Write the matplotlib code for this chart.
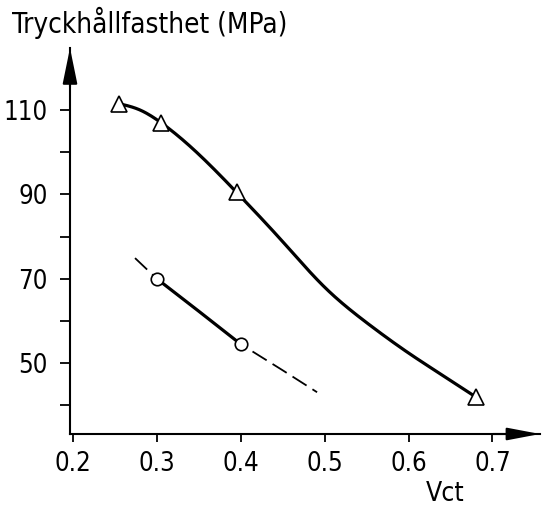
import matplotlib
matplotlib.use("Agg")
import numpy as np
import matplotlib.pyplot as plt

# Compressive strength vs. water/cement ratio (Vct)
tri_x = [0.255, 0.305, 0.395, 0.68]
tri_y = [111.5, 107.0, 90.5, 42.0]
# traced upper curve through the triangle series
curve1_x = [0.255, 0.28, 0.305, 0.35, 0.395, 0.45, 0.50, 0.55, 0.60, 0.65, 0.68]
curve1_y = [111.5, 110.0, 107.0, 99.5, 90.5, 78.8, 68.0, 59.6, 52.4, 45.9, 42.0]

circ_x = [0.30, 0.40]
circ_y = [70.0, 54.5]
# lower line: dashed extrapolation on both sides, solid between the points
curve2_x = [0.274, 0.30, 0.35, 0.40, 0.45, 0.491]
curve2_y = [74.9, 70.0, 62.3, 54.5, 48.3, 43.1]

x_ticks = [0.2, 0.3, 0.4, 0.5, 0.6, 0.7]
x_labels = ["0.2", "0.3", "0.4", "0.5", "0.6", "0.7"]
y_major = [50, 70, 90, 110]
y_minor = [40, 60, 80, 100]


def spline(xs, ys, n=300):
    """Natural cubic spline through the given points, for a drawn curve."""
    x = np.asarray(xs, float)
    y = np.asarray(ys, float)
    m = len(x)
    h = np.diff(x)
    A = np.zeros((m, m))
    b = np.zeros(m)
    A[0, 0] = A[-1, -1] = 1.0
    for i in range(1, m - 1):
        A[i, i - 1] = h[i - 1]
        A[i, i] = 2 * (h[i - 1] + h[i])
        A[i, i + 1] = h[i]
        b[i] = 6 * ((y[i + 1] - y[i]) / h[i] - (y[i] - y[i - 1]) / h[i - 1])
    M = np.linalg.solve(A, b)
    xx = np.linspace(x[0], x[-1], n)
    k = np.clip(np.searchsorted(x, xx) - 1, 0, m - 2)
    t0 = x[k + 1] - xx
    t1 = xx - x[k]
    hk = h[k]
    yy = (M[k] * t0 ** 3 / (6 * hk) + M[k + 1] * t1 ** 3 / (6 * hk)
          + (y[k] / hk - M[k] * hk / 6) * t0
          + (y[k + 1] / hk - M[k + 1] * hk / 6) * t1)
    return xx, yy


plt.rcParams["font.family"] = ["DejaVu Sans"]
plt.rcParams["font.stretch"] = "condensed"
plt.rcParams["lines.scale_dashes"] = False

W, H, DPI = 542, 508, 100
fig = plt.figure(figsize=(W / DPI, H / DPI), dpi=DPI)
ax = fig.add_axes([70 / W, 1 - 434 / H, 470 / W, (434 - 48) / H])
ax.set_xlim(0.1965, 0.7567)
ax.set_ylim(33.2, 124.7)

for s in ("top", "right"):
    ax.spines[s].set_visible(False)
for s in ("left", "bottom"):
    ax.spines[s].set_linewidth(1.5)

# arrow heads on the axes
ax.annotate("", xy=(0, 1.0), xytext=(0, 0.9), xycoords="axes fraction",
            arrowprops=dict(arrowstyle="-|>,head_length=22,head_width=4.5",
                            mutation_scale=1, lw=1.5, color="black",
                            shrinkA=0, shrinkB=0))
ax.annotate("", xy=(1.0, 0), xytext=(0.9, 0), xycoords="axes fraction",
            arrowprops=dict(arrowstyle="-|>,head_length=20,head_width=3.8",
                            mutation_scale=1, lw=1.5, color="black",
                            shrinkA=0, shrinkB=0))

ax.set_xticks(x_ticks)
ax.set_xticklabels(x_labels)
ax.set_yticks(y_major)
ax.set_yticks(y_minor, minor=True)
ax.tick_params(axis="both", which="both", direction="out", width=1.3,
               labelsize=18.5, color="black")
ax.tick_params(axis="y", which="both", length=7, pad=9)
ax.tick_params(axis="x", which="major", length=6, pad=6)

# upper curve with open triangles
sx, sy = spline(curve1_x, curve1_y)
ax.plot(sx, sy, color="black", lw=2.3, solid_capstyle="round", zorder=2)
ax.plot(tri_x, tri_y, linestyle="none", marker="^", markersize=11,
        markerfacecolor="white", markeredgecolor="black",
        markeredgewidth=1.2, zorder=3)

# lower line with open circles
ax.plot(curve2_x[0:2], curve2_y[0:2], color="black", lw=1.3,
        dashes=(12, 5), zorder=2)
ax.plot(curve2_x[1:4], curve2_y[1:4], color="black", lw=2.3, zorder=2)
ax.plot(curve2_x[3:], curve2_y[3:], color="black", lw=1.3,
        dashes=(4, 6, 12, 5, 12, 5, 12, 5), zorder=2)
ax.plot(circ_x, circ_y, linestyle="none", marker="o", markersize=9,
        markerfacecolor="white", markeredgecolor="black",
        markeredgewidth=1.2, zorder=3)

fig.text(12 / W, 1 - 33 / H, "Tryckhållfasthet (MPa)", fontsize=20,
         ha="left", va="baseline")
fig.text(445 / W, 1 - 494 / H, "Vct", fontsize=19, ha="center",
         va="center")

fig.savefig("out.png", dpi=DPI)
